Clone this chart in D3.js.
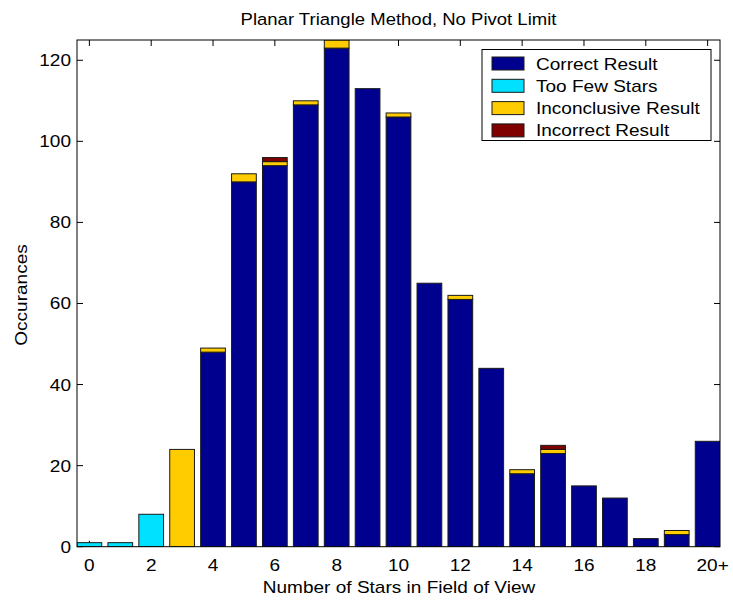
<!DOCTYPE html>
<html><head><meta charset="utf-8">
<script src="https://cdn.jsdelivr.net/npm/d3@7"></script>
<style>body{margin:0;background:#fff}svg{display:block;font-family:"Liberation Sans",Arial,Helvetica,sans-serif}</style>
</head><body><svg id="c" width="733" height="600"></svg>
<script>
const categories = ["0","1","2","3","4","5","6","7","8","9","10","11","12","13","14","15","16","17","18","19","20+"];
const correct      = [0,0,0,0,48,90,94,109,123,113,106,65,61,44,18,23,15,12,2,3,26];
const tooFew       = [1,1,8,0,0,0,0,0,0,0,0,0,0,0,0,0,0,0,0,0,0];
const inconclusive = [0,0,0,24,1,2,1,1,2,0,1,0,1,0,1,1,0,0,0,1,0];
const incorrect    = [0,0,0,0,0,0,1,0,0,0,0,0,0,0,0,1,0,0,0,0,0];
const seriesNames  = ["Correct Result","Too Few Stars","Inconclusive Result","Incorrect Result"];
const seriesColors = ["#00008F","#00E1FF","#FFCC00","#800000"];
const xTickLabels  = ["0","2","4","6","8","10","12","14","16","18","20+"];
const yTicks       = [0,20,40,60,80,100,120];
const title = "Planar Triangle Method, No Pivot Limit";
const xTitle = "Number of Stars in Field of View";
const yTitle = "Occurances";

const L=77, R=720, T=40, B=546.7;
const FS = 17, SX = 1.12;
const svg = d3.select("#c");
const x = d3.scaleBand().domain(categories).range([L,R]).paddingInner(0.2).paddingOuter(0);
const y = d3.scaleLinear().domain([0,125]).range([B,T]);

const rows = categories.map((c,i)=>({cat:c, s0:correct[i], s1:tooFew[i], s2:inconclusive[i], s3:incorrect[i]}));
const stack = d3.stack().keys(["s0","s1","s2","s3"])(rows);

svg.append("defs").append("clipPath").attr("id","clip").append("rect")
  .attr("x",L).attr("y",T).attr("width",R-L).attr("height",B-T);

function txt(parent, s, px, py, anchor, sx, rot){
  return parent.append("text")
    .attr("transform",`translate(${px},${py})${rot?` rotate(${rot})`:""} scale(${sx||SX},1)`)
    .attr("text-anchor",anchor).attr("font-size",FS).attr("fill","#000").text(s);
}

// ticks (drawn beneath bars)
const tk = 6;
const g = svg.append("g").attr("stroke","#000").attr("stroke-width",1);
xTickLabels.forEach(lbl=>{
  const cx = x(lbl)+x.bandwidth()/2;
  g.append("line").attr("x1",cx).attr("x2",cx).attr("y1",B).attr("y2",B-tk);
  g.append("line").attr("x1",cx).attr("x2",cx).attr("y1",T).attr("y2",T+tk);
});
yTicks.forEach(v=>{
  g.append("line").attr("x1",L).attr("x2",L+tk).attr("y1",y(v)).attr("y2",y(v));
  g.append("line").attr("x1",R).attr("x2",R-tk).attr("y1",y(v)).attr("y2",y(v));
});

// bars
const bars = svg.append("g").attr("clip-path","url(#clip)");
stack.forEach((layer,k)=>{
  bars.selectAll(null).data(layer.filter(d=>d[1]-d[0]>0)).enter().append("rect")
    .attr("x",d=>x(d.data.cat)).attr("width",x.bandwidth())
    .attr("y",d=>y(d[1])).attr("height",d=>y(d[0])-y(d[1]))
    .attr("fill",seriesColors[k]).attr("stroke","#1a1a1a").attr("stroke-width",1);
});

// box
svg.append("rect").attr("x",L).attr("y",T).attr("width",R-L).attr("height",B-T)
  .attr("fill","none").attr("stroke","#000").attr("stroke-width",1);

// tick labels
const xl = svg.append("g");
xTickLabels.forEach(d=>txt(xl, d, x(d)+x.bandwidth()/2 + (d==="20+"?5:0), 571, "middle"));
const yl = svg.append("g");
yTicks.forEach(v=>txt(yl, String(v), 71, y(v)+6, "end"));

// titles
txt(svg, title, 398.5, 25, "middle", 1.09);
txt(svg, xTitle, 399, 593, "middle");
txt(svg, yTitle, 27, 295, "middle", SX, -90);

// legend
const lg = svg.append("g");
lg.append("rect").attr("x",482).attr("y",49.5).attr("width",229).attr("height",91)
  .attr("fill","#fff").attr("stroke","#000").attr("stroke-width",1);
seriesNames.forEach((n,i)=>{
  const cy = 63.5 + i*22.3;
  lg.append("rect").attr("x",492).attr("y",cy-6.5).attr("width",32).attr("height",13)
    .attr("fill",seriesColors[i]).attr("stroke","#1a1a1a").attr("stroke-width",1);
  txt(lg, n, 536, cy+6, "start");
});
</script></body></html>
